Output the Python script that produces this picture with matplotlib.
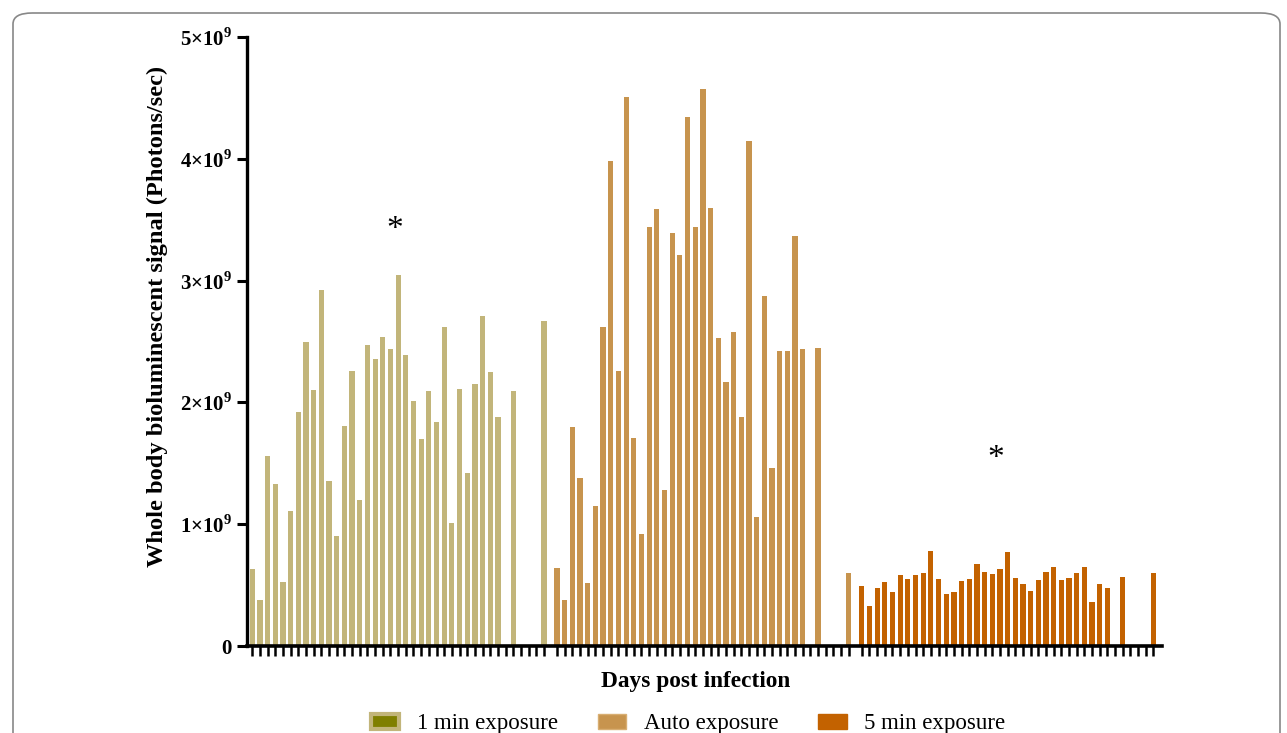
import matplotlib.pyplot as plt
from matplotlib.patches import Patch, FancyBboxPatch

plt.rcParams['font.family'] = ['Liberation Serif', 'DejaVu Serif']
plt.rcParams['mathtext.fontset'] = 'custom'
plt.rcParams['mathtext.rm'] = 'Liberation Serif'
plt.rcParams['mathtext.bf'] = 'Liberation Serif:bold'

# day slots that have a measurement (same in every group), 39 slots per group
slots = list(range(33)) + [34, 38]
n_slots = 39

# signal in units of 1e9 photons/sec
one_min = [0.63, 0.38, 1.56, 1.33, 0.525, 1.11, 1.92, 2.50, 2.10, 2.92,
           1.355, 0.90, 1.81, 2.26, 1.20, 2.47, 2.36, 2.54, 2.44, 3.05,
           2.39, 2.01, 1.70, 2.09, 1.84, 2.62, 1.01, 2.11, 1.42, 2.15,
           2.71, 2.25, 1.88, 2.09, 2.67]
auto = [0.64, 0.38, 1.80, 1.38, 0.52, 1.15, 2.62, 3.98, 2.26, 4.51,
        1.71, 0.92, 3.44, 3.59, 1.28, 3.39, 3.21, 4.34, 3.44, 4.57,
        3.60, 2.53, 2.17, 2.58, 1.88, 4.15, 1.06, 2.87, 1.46, 2.42,
        2.42, 3.37, 2.44, 2.45, 0.60]
five_min = [0.49, 0.33, 0.48, 0.525, 0.44, 0.585, 0.55, 0.58, 0.60, 0.78,
            0.55, 0.43, 0.44, 0.53, 0.55, 0.67, 0.61, 0.59, 0.63, 0.77,
            0.56, 0.51, 0.45, 0.54, 0.61, 0.65, 0.54, 0.56, 0.60, 0.65,
            0.36, 0.51, 0.48, 0.57, 0.60]

series = [one_min, auto, five_min]
labels = ['1 min exposure', 'Auto exposure', '5 min exposure']
colors = ['#C2B57A', '#C7944E', '#C36200']
group_gap = 39.7

# asterisks (group slot position, value)
stars = [(18.6, 3.42), (2 * group_gap + 17.4, 1.54)]

fig = plt.figure(figsize=(12.87, 7.33), dpi=100)
ax = fig.add_axes([247 / 1287, 1 - 646 / 733, (1161.7 - 247) / 1287, (646 - 37) / 733])

ticks = []
for g, vals in enumerate(series):
    off = g * group_gap
    xs = [s + off for s in slots]
    ax.bar(xs, [v * 1e9 for v in vals], width=0.68, color=colors[g], linewidth=0)
    ticks += [s + off for s in range(n_slots)]

for x, y in stars:
    ax.text(x, y * 1e9, '*', fontsize=24, ha='center', va='center')

ax.set_xlim(-0.69, 118.47)
ax.set_ylim(0, 5e9)
ax.set_xticks(ticks)
ax.set_xticklabels([])
ax.set_yticks([0, 1e9, 2e9, 3e9, 4e9, 5e9])
ax.set_yticklabels(['0'] + ['%d×10$^{\\mathbf{9}}$' % k for k in range(1, 6)],
                   fontsize=15, fontweight='bold')
ax.tick_params(axis='x', direction='out', length=7, width=1.8)
ax.tick_params(axis='y', direction='out', length=7, width=2.2, pad=4)
for side in ['top', 'right']:
    ax.spines[side].set_visible(False)
ax.spines['left'].set_linewidth(2.4)
ax.spines['bottom'].set_linewidth(2.6)

fig.text(157 / 1287, 1 - 316 / 733, 'Whole body bioluminescent signal (Photons/sec)',
         rotation=90, ha='center', va='center', fontsize=17.6, fontweight='bold')
fig.text(696 / 1287, 1 - 681 / 733, 'Days post infection',
         ha='center', va='center', fontsize=16.8, fontweight='bold')

handles = [
    Patch(facecolor='#7F7F00', edgecolor='#C2B57A', linewidth=3),
    Patch(facecolor='#C7944E', edgecolor='#D8AE72', linewidth=1),
    Patch(facecolor='#C36200', edgecolor='#C36200', linewidth=1),
]
fig.legend(handles, labels, loc='center', bbox_to_anchor=(688 / 1287, 1 - 724 / 733),
           ncol=3, frameon=False, fontsize=16.5, handlelength=1.25, handleheight=0.6,
           handletextpad=0.75, columnspacing=1.75)

border = FancyBboxPatch((13 / 1287, -0.1), (1280 - 13) / 1287, 1 - 13 / 733 + 0.1,
                        boxstyle='round,pad=0,rounding_size=0.015',
                        transform=fig.transFigure, facecolor='none',
                        edgecolor='#888888', linewidth=1.2, clip_on=False)
fig.patches.append(border)

fig.savefig('out.png', dpi=100)
